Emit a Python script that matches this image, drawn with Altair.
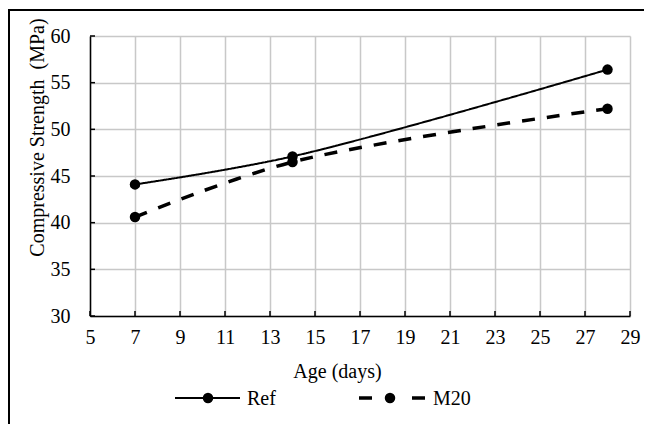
import altair as alt
import pandas as pd

ages = [7, 14, 28]
ref_strength = [44.1, 47.1, 56.4]
m20_strength = [40.6, 46.5, 52.2]
series_names = ["Ref", "M20"]
x_ticks = [5, 7, 9, 11, 13, 15, 17, 19, 21, 23, 25, 27, 29]
y_ticks = [30, 35, 40, 45, 50, 55, 60]

df = pd.DataFrame({
    "age": ages * 2,
    "strength": ref_strength + m20_strength,
    "series": [series_names[0]] * len(ages) + [series_names[1]] * len(ages),
})

W, H = 540, 280
FONT = "Liberation Serif"
FS = 20

x_scale = alt.Scale(domain=[5, 29], nice=False, zero=False)
y_scale = alt.Scale(domain=[30, 60], nice=False, zero=False)

x_axis = alt.Axis(values=x_ticks, title="Age (days)", grid=True, ticks=False, tickSize=0,
                  labelPadding=11, titleX=247, titleY=55, titleBaseline="middle",
                  labelFlush=False)
y_axis = alt.Axis(values=y_ticks, title="Compressive Strength \u00a0(MPa)", grid=True, ticks=False,
                  tickSize=0, labelPadding=20, titleX=-53, titleY=101,
                  titleBaseline="middle", labelFlush=False)

dash_scale = alt.Scale(domain=series_names, range=[[1, 0], [13, 12]])
width_scale = alt.Scale(domain=series_names, range=[2, 3.5])

X = alt.X("age:Q", scale=x_scale, axis=x_axis)
Y = alt.Y("strength:Q", scale=y_scale, axis=y_axis)

lines = alt.Chart(df).mark_line(interpolate="catmull-rom", color="black").encode(
    x=X, y=Y,
    strokeDash=alt.StrokeDash("series:N", scale=dash_scale, legend=None),
    strokeWidth=alt.StrokeWidth("series:N", scale=width_scale, legend=None),
)

points = alt.Chart(df).mark_point(filled=True, size=110, opacity=1, color="black").encode(
    x=X, y=Y,
)

xt = alt.Chart(pd.DataFrame({"t": x_ticks})).mark_rule(color="black", strokeWidth=1.5).encode(
    x=alt.X("t:Q", scale=x_scale, axis=x_axis),
    y=alt.value(H), y2=alt.value(H - 5),
)
yt = alt.Chart(pd.DataFrame({"t": y_ticks})).mark_rule(color="black", strokeWidth=1.5).encode(
    y=alt.Y("t:Q", scale=y_scale, axis=y_axis),
    x=alt.value(0), x2=alt.value(5),
)

frame = alt.Chart(pd.DataFrame({"a": [0]})).mark_rect(
    fillOpacity=0, stroke="black", strokeWidth=2
).encode(
    x=alt.value(-81), x2=alt.value(W + 80), y=alt.value(-26), y2=alt.value(H + 160)
)

LY = 362
leg_ref = pd.DataFrame({"series": [series_names[0]]})
leg_m20 = pd.DataFrame({"series": [series_names[1]]})

ref_line = alt.Chart(leg_ref).mark_rule(color="black", strokeWidth=2).encode(
    x=alt.value(85), x2=alt.value(150), y=alt.value(LY))
ref_dot = alt.Chart(leg_ref).mark_point(filled=True, size=110, opacity=1, color="black").encode(
    x=alt.value(118), y=alt.value(LY))
ref_txt = alt.Chart(leg_ref).mark_text(align="left", baseline="middle", font=FONT, fontSize=FS,
                                       color="black").encode(
    x=alt.value(157), y=alt.value(LY + 1), text="series:N")

m_line = alt.Chart(leg_m20).mark_rule(color="black", strokeWidth=3.5, strokeDash=[13, 40]).encode(
    x=alt.value(269), x2=alt.value(335), y=alt.value(LY))
m_dot = alt.Chart(leg_m20).mark_point(filled=True, size=110, opacity=1, color="black").encode(
    x=alt.value(300), y=alt.value(LY))
m_txt = alt.Chart(leg_m20).mark_text(align="left", baseline="middle", font=FONT, fontSize=FS,
                                     color="black").encode(
    x=alt.value(343), y=alt.value(LY + 1), text="series:N")

chart = alt.layer(
    lines, points, xt, yt, frame, ref_line, ref_dot, ref_txt, m_line, m_dot, m_txt
).properties(
    width=W, height=H,
    autosize=alt.AutoSizeParams(type="none"),
    padding={"left": 82, "top": 28, "right": 14, "bottom": 108},
).configure_view(stroke=None).configure_axis(
    labelFont=FONT, labelFontSize=FS, labelColor="black",
    titleFont=FONT, titleFontSize=FS, titleFontWeight="normal", titleColor="black",
    domainColor="black", domainWidth=1.5,
    gridColor="#c8c8c8", gridWidth=1.5,
)

chart.save("out.html", embed_options={"renderer": "svg", "actions": False})
